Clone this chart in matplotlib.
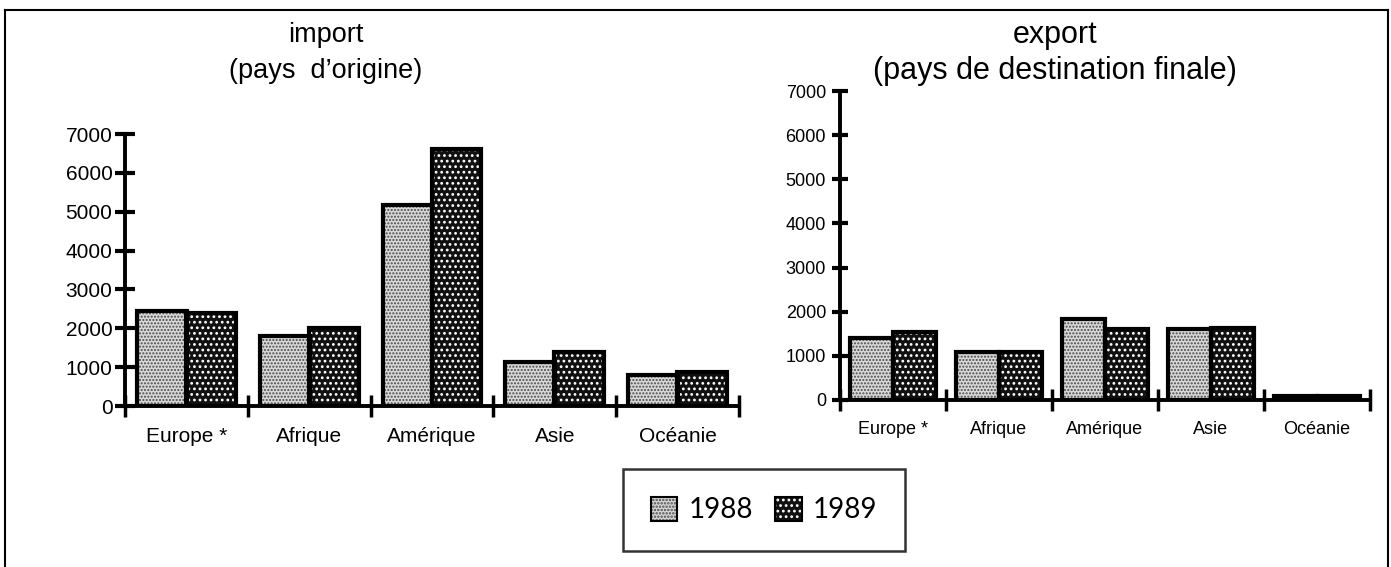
import numpy as np
import matplotlib.pyplot as plt
from matplotlib.patches import Patch
from matplotlib.lines import Line2D

# data
categories = ['Europe *', 'Afrique', 'Amérique', 'Asie', 'Océanie']
years = ['1988', '1989']
import_1988 = [2450, 1800, 5170, 1120, 800]
import_1989 = [2390, 2010, 6620, 1380, 870]
export_1988 = [1410, 1090, 1830, 1600, 100]
export_1989 = [1530, 1090, 1600, 1640, 100]
yticks = [0, 1000, 2000, 3000, 4000, 5000, 6000, 7000]

plt.rcParams['font.family'] = ['Liberation Sans', 'DejaVu Sans']

W, H = 1391, 567
fig = plt.figure(figsize=(W / 100, H / 100), dpi=100)

# fill colour, dot colour, hatch, dot size for each year
styles = {
    '1988': ('#d8d8d8', '#4a4a4a', '.....', 1.0),
    '1989': ('#111111', 'white', '...', 1.2),
}


def fx(px):
    return px / W


def fy(py):
    return 1 - py / H


def hatched_patch(yr, **kw):
    fc, hc, hatch, hlw = styles[yr]
    plt.rcParams['hatch.linewidth'] = hlw
    return dict(facecolor=fc, edgecolor=hc, hatch=hatch, linewidth=0, **kw)


def draw_panel(ax, v88, v89, label_size, ylen, ypad, xpad):
    x = np.arange(len(categories)) + 0.5
    w = 0.405
    for off, vals, yr in [(-0.2, v88, '1988'), (0.2, v89, '1989')]:
        ax.bar(x + off, vals, w, **hatched_patch(yr, zorder=2))
        ax.bar(x + off, vals, w, fill=False, edgecolor='black',
               linewidth=3, zorder=3)
    ax.set_xlim(0, len(categories))
    ax.set_ylim(0, 7000)
    ax.set_yticks(yticks)
    ax.set_yticklabels([str(t) for t in yticks], fontsize=label_size)
    ax.set_xticks(np.arange(len(categories) + 1))
    ax.set_xticklabels([])
    ax.set_xticks(x, minor=True)
    ax.set_xticklabels(categories, minor=True, fontsize=label_size)
    ax.tick_params(axis='y', direction='inout', length=ylen, width=3, pad=ypad)
    ax.tick_params(axis='x', which='major', direction='inout', length=16,
                   width=2.5)
    ax.tick_params(axis='x', which='minor', length=0, pad=xpad)
    for s in ['top', 'right']:
        ax.spines[s].set_visible(False)
    for s in ['left', 'bottom']:
        ax.spines[s].set_linewidth(2.8)
    ax.set_facecolor('none')


ax1 = fig.add_axes([fx(125), fy(406), fx(739 - 125), (406 - 134) / H])
draw_panel(ax1, import_1988, import_1989, 15, 14, 2, 15)

ax2 = fig.add_axes([fx(840), fy(400), fx(1370 - 840), (400 - 91) / H])
draw_panel(ax2, export_1988, export_1989, 13, 12, 4, 15)

# panel titles
fig.text(fx(326), fy(35), 'import', ha='center', va='center', fontsize=19.5)
fig.text(fx(326), fy(71), '(pays  d\u2019origine)', ha='center', va='center',
         fontsize=19.5)
fig.text(fx(1055), fy(35), 'export', ha='center', va='center', fontsize=22)
fig.text(fx(1055), fy(71), '(pays de destination finale)', ha='center',
         va='center', fontsize=22)

# page heading, cut off by the top of the scan
fig.text(fx(1160), 1 + 9 / H, 'par zone et par pays', ha='right',
         va='baseline', fontsize=20, fontweight='bold')

# frame of the page
frame = dict(color='black', linewidth=1.5)
fig.add_artist(Line2D([fx(5), fx(1388)], [fy(10), fy(10)], **frame))
fig.add_artist(Line2D([fx(5), fx(5)], [0, fy(10)], **frame))
fig.add_artist(Line2D([fx(1388), fx(1388)], [0, fy(10)], **frame))

# legend
handles = []
for yr in years:
    handles.append((Patch(**hatched_patch(yr)),
                    Patch(fill=False, edgecolor='black', linewidth=1.5)))
leg = fig.legend(handles, years, loc='center',
                 bbox_to_anchor=(fx(764), fy(510)), ncol=2, frameon=True,
                 fancybox=False, edgecolor='black',
                 prop={'family': 'Lato', 'size': 20},
                 handlelength=0.95, handleheight=0.95, handletextpad=0.4,
                 columnspacing=0.8, borderpad=1.0, labelcolor='black')
leg.get_frame().set_linewidth(1.8)

fig.savefig('out.png', dpi=100)
